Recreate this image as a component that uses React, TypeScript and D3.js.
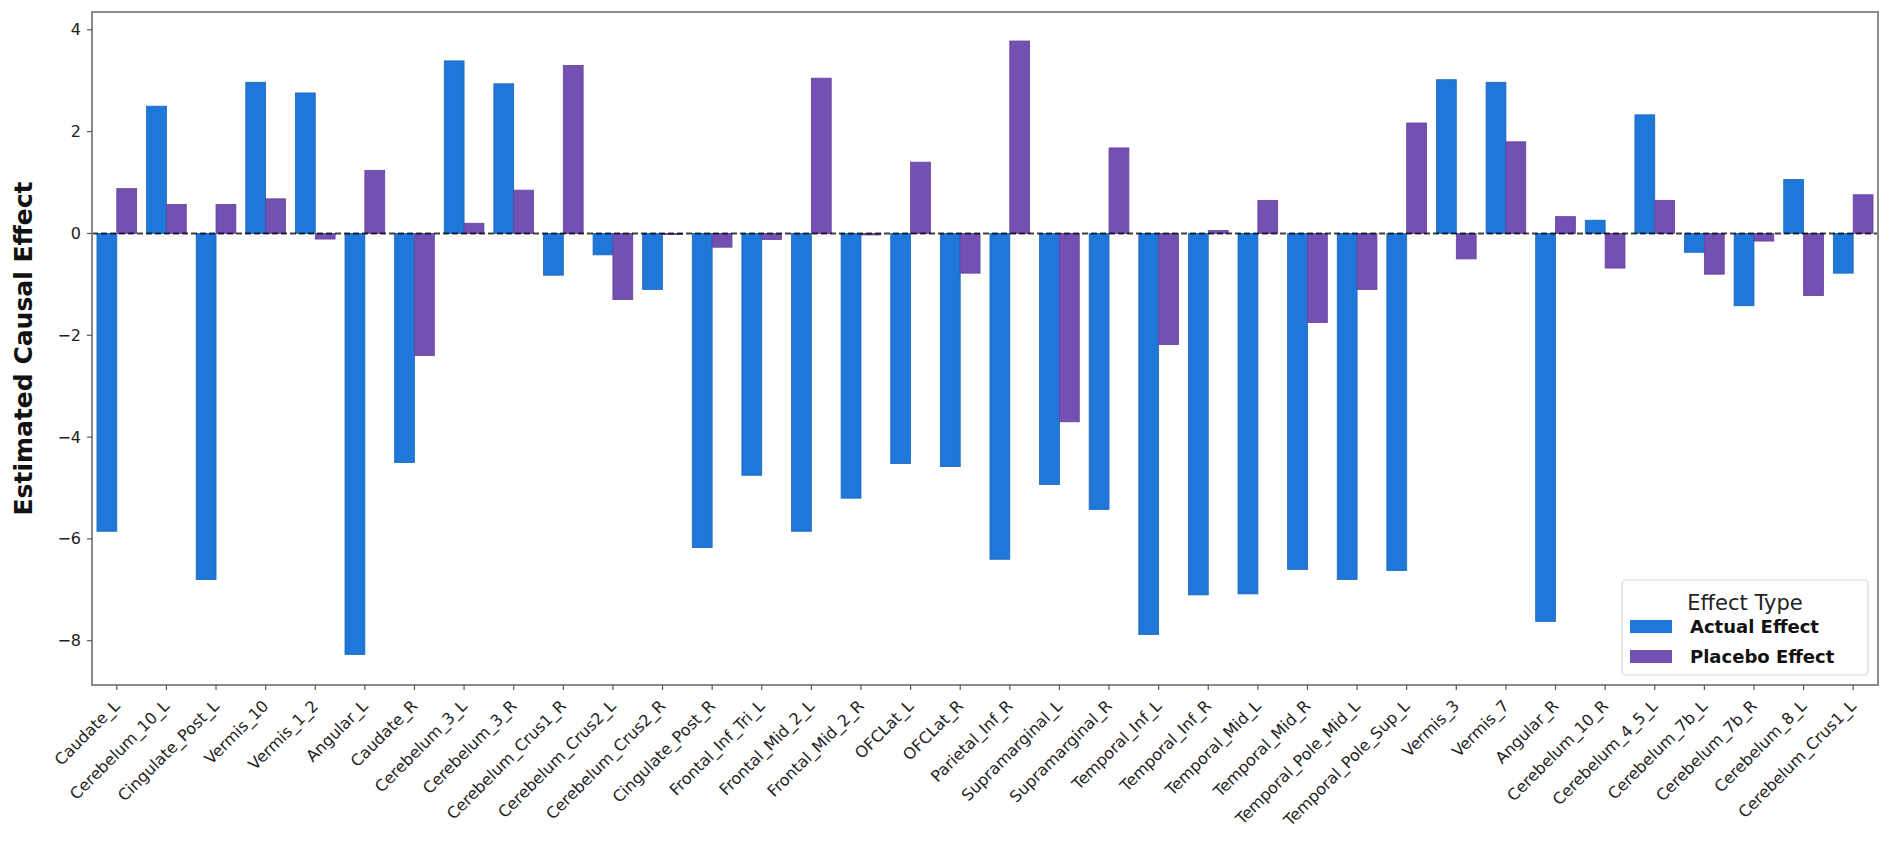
import React from "react";
import * as d3 from "d3";

const regions = [
  "Caudate_L", "Cerebelum_10_L", "Cingulate_Post_L", "Vermis_10", "Vermis_1_2", "Angular_L",
  "Caudate_R", "Cerebelum_3_L", "Cerebelum_3_R", "Cerebelum_Crus1_R", "Cerebelum_Crus2_L", "Cerebelum_Crus2_R",
  "Cingulate_Post_R", "Frontal_Inf_Tri_L", "Frontal_Mid_2_L", "Frontal_Mid_2_R", "OFCLat_L", "OFCLat_R",
  "Parietal_Inf_R", "Supramarginal_L", "Supramarginal_R", "Temporal_Inf_L", "Temporal_Inf_R", "Temporal_Mid_L",
  "Temporal_Mid_R", "Temporal_Pole_Mid_L", "Temporal_Pole_Sup_L", "Vermis_3", "Vermis_7", "Angular_R",
  "Cerebelum_10_R", "Cerebelum_4_5_L", "Cerebelum_7b_L", "Cerebelum_7b_R", "Cerebelum_8_L", "Cerebelum_Crus1_L",
];

const actualEffect = [
  -5.85, 2.5, -6.8, 2.97, 2.76, -8.27,
  -4.5, 3.39, 2.94, -0.82, -0.42, -1.1,
  -6.17, -4.75, -5.85, -5.2, -4.52, -4.58,
  -6.4, -4.93, -5.42, -7.88, -7.1, -7.08,
  -6.6, -6.8, -6.62, 3.02, 2.97, -7.62,
  0.26, 2.33, -0.37, -1.42, 1.06, -0.78,
];

const placeboEffect = [
  0.88, 0.57, 0.57, 0.68, -0.11, 1.24,
  -2.4, 0.2, 0.85, 3.3, -1.3, -0.02,
  -0.27, -0.12, 3.05, -0.03, 1.4, -0.78,
  3.78, -3.7, 1.68, -2.18, 0.06, 0.65,
  -1.75, -1.1, 2.17, -0.5, 1.8, 0.33,
  -0.68, 0.65, -0.8, -0.15, -1.22, 0.76,
];

const seriesNames = ["Actual Effect", "Placebo Effect"];
const seriesColors = ["#1f77d9", "#7450b3"];
const yTicks = [-8, -6, -4, -2, 0, 2, 4];

const W = 1889;
const H = 861;
const M = { left: 92, right: 1878, top: 12, bottom: 685 };

export default function App() {
  const x = d3.scaleBand<string>().domain(regions).range([M.left, M.right]).paddingInner(0).paddingOuter(0);
  const y = d3.scaleLinear().domain([-8.87, 4.35]).range([M.bottom, M.top]);
  const bw = x.bandwidth();
  const barW = bw * 0.4;
  const series = [actualEffect, placeboEffect];
  const fmt = (v: number) => (v < 0 ? "\u2212" + Math.abs(v) : String(v));
  const font = "'DejaVu Sans', sans-serif";

  return (
    <svg width={W} height={H} style={{ position: "absolute", left: 0, top: 0, background: "#fff" }} fontFamily={font}>
      <rect x={0} y={0} width={W} height={H} fill="#fff" />
      {series.map((vals, si) =>
        vals.map((v, i) => {
          const cx = (x(regions[i]) as number) + bw / 2;
          const bx = cx - barW + si * barW;
          const y0 = y(0);
          const yv = y(v);
          return (
            <rect
              key={`${si}-${i}`}
              x={bx}
              y={Math.min(y0, yv)}
              width={barW}
              height={Math.abs(yv - y0)}
              fill={seriesColors[si]}
              stroke={si === 0 ? "#1a66bd" : "#63429c"}
              strokeWidth={0.8}
            />
          );
        })
      )}
      <line x1={M.left} x2={M.right} y1={y(0)} y2={y(0)} stroke="#000" strokeOpacity={0.75} strokeWidth={2} strokeDasharray="6,3" />
      {/* axes frame */}
      <rect x={M.left} y={M.top} width={M.right - M.left} height={M.bottom - M.top} fill="none" stroke="#8a8a8a" strokeWidth={2} />
      {/* y ticks */}
      {yTicks.map((t) => (
        <g key={t}>
          <line x1={M.left - 5} x2={M.left} y1={y(t)} y2={y(t)} stroke="#555" strokeWidth={1.2} />
          <text x={M.left - 11} y={y(t)} dy="0.35em" textAnchor="end" fontSize={16} fill="#222">
            {fmt(t)}
          </text>
        </g>
      ))}
      {/* x ticks */}
      {regions.map((r) => {
        const cx = (x(r) as number) + bw / 2;
        return (
          <g key={r}>
            <line x1={cx} x2={cx} y1={M.bottom} y2={M.bottom + 5} stroke="#555" strokeWidth={1.2} />
            <text
              transform={`translate(${cx - 4},${M.bottom + 14}) rotate(-45)`}
              textAnchor="end"
              dy="0.7em"
              fontSize={16}
              fill="#222"
            >
              {r}
            </text>
          </g>
        );
      })}
      {/* y label */}
      <text
        transform={`translate(32,${(M.top + M.bottom) / 2}) rotate(-90)`}
        textAnchor="middle"
        fontSize={25}
        fontWeight="bold"
        fill="#111"
      >
        Estimated Causal Effect
      </text>
      {/* legend */}
      <g>
        <rect x={1622} y={580} width={246} height={95} rx={4} fill="#fff" fillOpacity={0.9} stroke="#d8d8d8" strokeWidth={1.2} />
        <text x={1745} y={603} textAnchor="middle" dy="0.35em" fontSize={21} fill="#222">
          Effect Type
        </text>
        {seriesNames.map((n, i) => (
          <g key={n}>
            <rect x={1630} y={620 + i * 30} width={42} height={13} fill={seriesColors[i]} />
            <text x={1690} y={627 + i * 30} dy="0.35em" fontSize={18} fontWeight="bold" fill="#111">
              {n}
            </text>
          </g>
        ))}
      </g>
    </svg>
  );
}
